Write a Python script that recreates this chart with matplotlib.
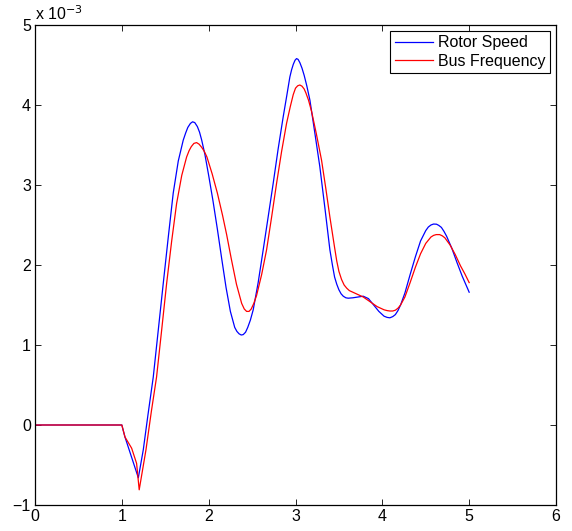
import numpy as np
import matplotlib
matplotlib.use("Agg")
import matplotlib.pyplot as plt

# values, y in units of 1e-3
t_rotor = [0, 1.0, 1.036, 1.19, 1.247, 1.30, 1.362, 1.42, 1.477, 1.535, 1.592, 1.65, 1.707,
           1.735, 1.76, 1.79, 1.815, 1.84, 1.87, 1.895, 1.92, 1.957, 2.00, 2.05, 2.10, 2.15,
           2.20, 2.25, 2.30, 2.325, 2.35, 2.375, 2.398, 2.425, 2.45, 2.48, 2.513, 2.57, 2.628,
           2.685, 2.743, 2.80, 2.858, 2.90, 2.935, 2.955, 2.975, 2.995, 3.012, 3.03, 3.05,
           3.075, 3.10, 3.13, 3.166, 3.22, 3.28, 3.34, 3.396, 3.425, 3.45, 3.475, 3.50, 3.525,
           3.55, 3.58, 3.607, 3.66, 3.72, 3.78, 3.84, 3.90, 3.96, 4.02, 4.055, 4.087, 4.12,
           4.15, 4.18, 4.21, 4.26, 4.32, 4.38, 4.44, 4.50, 4.53, 4.56, 4.59, 4.624, 4.65,
           4.68, 4.71, 4.74, 4.80, 4.86, 4.92, 5.0]
rotor_speed = [0, 0, -0.15, -0.66, -0.31, 0.12, 0.60, 1.19, 1.77, 2.35, 2.90, 3.30, 3.56,
               3.65, 3.72, 3.77, 3.79, 3.78, 3.73, 3.66, 3.56, 3.38, 3.12, 2.80, 2.45, 2.08,
               1.72, 1.42, 1.22, 1.17, 1.14, 1.125, 1.13, 1.16, 1.22, 1.31, 1.44, 1.78, 2.19,
               2.60, 3.02, 3.45, 3.85, 4.12, 4.35, 4.44, 4.51, 4.56, 4.58, 4.57, 4.53,
               4.46, 4.37, 4.24, 4.06, 3.67, 3.23, 2.70, 2.19, 2.00, 1.85, 1.76, 1.69, 1.64,
               1.61, 1.59, 1.585, 1.59, 1.60, 1.61, 1.58, 1.50, 1.42, 1.36, 1.345, 1.34, 1.355,
               1.38, 1.43, 1.50, 1.65, 1.88, 2.10, 2.30, 2.43, 2.475, 2.50, 2.512, 2.51, 2.495,
               2.47, 2.42, 2.36, 2.21, 2.03, 1.86, 1.66]

t_bus = [0, 1.0, 1.036, 1.113, 1.17, 1.20, 1.278, 1.34, 1.40, 1.458, 1.516, 1.574, 1.631,
         1.69, 1.746, 1.775, 1.80, 1.83, 1.861, 1.89, 1.92, 1.95, 1.98, 2.04, 2.10, 2.16,
         2.207, 2.26, 2.32, 2.38, 2.41, 2.437, 2.465, 2.49, 2.52, 2.552, 2.61, 2.667, 2.725,
         2.782, 2.84, 2.897, 2.94, 2.974, 3.00, 3.025, 3.05, 3.075, 3.10, 3.12, 3.15, 3.185,
         3.24, 3.30, 3.35, 3.396, 3.45, 3.475, 3.50, 3.53, 3.56, 3.59, 3.62, 3.70, 3.78,
         3.86, 3.94, 4.02, 4.055, 4.087, 4.12, 4.15, 4.18, 4.21, 4.26, 4.32, 4.38, 4.44,
         4.50, 4.56, 4.59, 4.62, 4.66, 4.69, 4.72, 4.78, 4.84, 4.90, 4.95, 5.0]
bus_freq = [0, 0, -0.15, -0.29, -0.48, -0.81, -0.31, 0.17, 0.60, 1.18, 1.77, 2.30, 2.77,
            3.12, 3.35, 3.43, 3.48, 3.52, 3.53, 3.51, 3.47, 3.42, 3.35, 3.14, 2.90, 2.62,
            2.38, 2.08, 1.76, 1.52, 1.45, 1.42, 1.42, 1.45, 1.52, 1.62, 1.88, 2.19, 2.60,
            3.02, 3.42, 3.77, 3.98, 4.13, 4.21, 4.24, 4.25, 4.235, 4.20, 4.15, 4.06, 3.92,
            3.64, 3.31, 2.95, 2.60, 2.22, 2.05, 1.92, 1.82, 1.75, 1.71, 1.68, 1.64, 1.60,
            1.54, 1.48, 1.44, 1.43, 1.425, 1.425, 1.435, 1.46, 1.50, 1.60, 1.78, 1.97, 2.14,
            2.27, 2.35, 2.37, 2.38, 2.38, 2.365, 2.34, 2.25, 2.13, 1.99, 1.89, 1.78]

plt.rcParams['font.family'] = ['Liberation Sans', 'DejaVu Sans']

fig = plt.figure(figsize=(5.72, 5.31), dpi=100)
ax = fig.add_axes([35/572, 26/531, 521/572, 480/531])

ax.plot(t_rotor, rotor_speed, color=(0, 0, 1), lw=0.9, label="Rotor Speed")
ax.plot(t_bus, bus_freq, color=(1, 0, 0), lw=0.9, label="Bus Frequency")

ax.set_xlim(0, 6)
ax.set_ylim(-1, 5)
ax.set_xticks(range(0, 7))
ax.set_yticks(range(-1, 6))
ax.set_yticklabels(["\u22121", "0", "1", "2", "3", "4", "5"])
ax.tick_params(direction="in", top=True, right=True, length=4, width=0.6,
               labelsize=11.5, pad=3)
for s in ax.spines.values():
    s.set_linewidth(0.9)

ax.text(0.0, 1.005, "x 10$^{-3}$", transform=ax.transAxes, fontsize=11.5,
        ha="left", va="bottom")

leg = ax.legend(loc="upper right", fontsize=11.5, fancybox=False, framealpha=1,
                edgecolor="black", borderpad=0.3, labelspacing=0.2,
                handlelength=2.4, handletextpad=0.3, borderaxespad=0.35)
leg.get_frame().set_linewidth(0.8)

fig.savefig("out.png", dpi=100)
